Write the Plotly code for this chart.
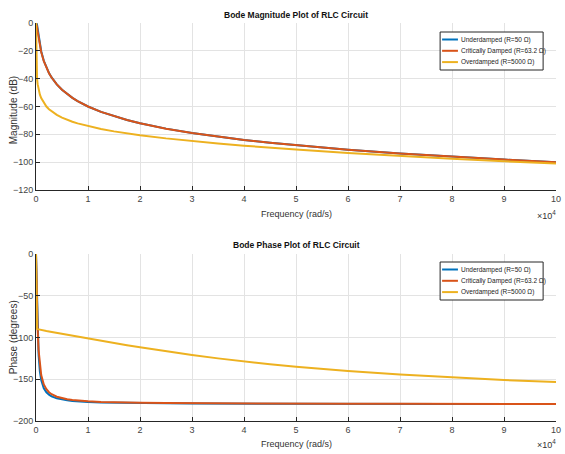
import plotly.graph_objects as go

# Frequency samples (rad/s)
freq = [0, 100, 200, 316, 500, 750, 1000, 1500, 2000, 2500, 3000, 4000, 5000, 6000, 7000, 8000,
        10000, 12500, 15000, 17500, 20000, 25000, 30000, 35000, 40000, 45000, 50000,
        60000, 70000, 80000, 90000, 100000]

# Magnitude (dB)
mag_under = [0, -0.25, -1.34, -3.98, -9.29, -15.50, -20.25, -27.15, -32.10, -35.95, -39.11, -44.10, -47.97,
             -51.13, -53.81, -56.13, -60.00, -63.87, -67.04, -69.71, -72.03, -75.91, -79.08, -81.75,
             -84.07, -86.12, -87.95, -91.12, -93.79, -96.11, -98.16, -99.99]
mag_crit = [0, -0.83, -2.92, -6.02, -10.88, -16.42, -20.83, -27.42, -32.26, -36.06, -39.18, -44.14, -47.99,
            -51.15, -53.82, -56.14, -60.01, -63.88, -67.05, -69.72, -72.04, -75.92, -79.09, -81.76,
            -84.08, -86.13, -87.96, -91.13, -93.80, -96.12, -98.17, -100.00]
mag_over = [0, -33.98, -40.00, -43.98, -47.96, -51.48, -53.98, -57.50, -60.01, -61.95, -63.54, -66.05, -68.00,
            -69.60, -70.97, -72.15, -74.15, -76.18, -77.88, -79.34, -80.64, -82.91, -84.86, -86.59,
            -88.17, -89.62, -90.97, -93.42, -95.59, -97.56, -99.34, -100.97]

# Phase (degrees)
ph_under = [0, -29.05, -59.0, -90.0, -120.96, -140.96, -150.95, -160.77, -165.62, -168.51, -170.43, -172.83,
            -174.27, -175.22, -175.91, -176.42, -177.14, -177.71, -178.09, -178.36, -178.57, -178.85,
            -179.05, -179.18, -179.28, -179.36, -179.43, -179.52, -179.59, -179.64, -179.68, -179.71]
ph_crit = [0, -35.1, -64.6, -90.0, -115.3, -134.28, -144.9, -156.2, -162.0, -165.58, -167.96, -170.96,
           -172.76, -173.96, -174.83, -175.47, -176.38, -177.10, -177.58, -177.93, -178.19, -178.55,
           -178.79, -178.96, -179.09, -179.19, -179.28, -179.40, -179.48, -179.55, -179.60, -179.64]
ph_over = [0, -88.97, -89.66, -90.0, -90.34, -90.71, -91.03, -91.64, -92.23, -92.82, -93.39, -94.54,
           -95.69, -96.82, -97.98, -99.08, -101.30, -104.03, -106.69, -109.28, -111.80, -116.56,
           -120.96, -124.99, -128.66, -131.99, -135.0, -140.19, -144.46, -147.99, -150.95, -153.43]

names = ["Underdamped (R=50 Ω)", "Critically Damped (R=63.2 Ω)", "Overdamped (R=5000 Ω)"]
colors = ["#0072BD", "#D95319", "#EDB120"]

xtick_vals = [0, 10000, 20000, 30000, 40000, 50000, 60000, 70000, 80000, 90000, 100000]
xtick_text = ["0", "1", "2", "3", "4", "5", "6", "7", "8", "9", "10"]
mag_ticks = [-120, -100, -80, -60, -40, -20, 0]
ph_ticks = [-200, -150, -100, -50, 0]

FONT = "Liberation Sans, Arial, sans-serif"

# Pixel geometry of the plot areas
L, R, T, B = 36, 4, 23, 33
W, H = 565, 454
PW, PH = W - L - R, H - T - B


def px_x(px):
    return (px - L) / PW


def px_y(py):
    return (H - B - py) / PH


fig = go.Figure()
for ys, nm, c in zip([mag_under, mag_crit, mag_over], names, colors):
    fig.add_trace(go.Scatter(x=freq, y=ys, mode="lines", name=nm, line=dict(color=c, width=2),
                             xaxis="x", yaxis="y", showlegend=False))
for ys, nm, c in zip([ph_under, ph_crit, ph_over], names, colors):
    fig.add_trace(go.Scatter(x=freq, y=ys, mode="lines", name=nm, line=dict(color=c, width=2),
                             xaxis="x2", yaxis="y2", showlegend=False))

axis_common = dict(showgrid=True, gridcolor="#e3e3e3", gridwidth=1, zeroline=False,
                   showline=True, linecolor="#262626", linewidth=1,
                   ticks="inside", ticklen=4, tickcolor="#262626",
                   ticklabeloverflow="allow",
                   tickfont=dict(family=FONT, size=9, color="#444444"))

fig.update_layout(
    width=W, height=H,
    margin=dict(l=L, r=R, t=T, b=B),
    paper_bgcolor="white", plot_bgcolor="white",
    showlegend=False,
    xaxis=dict(domain=[0, 1], range=[0, 100000], tickvals=xtick_vals, ticktext=xtick_text,
               anchor="y", **axis_common),
    yaxis=dict(domain=[px_y(190), 1], range=[-120, 0], tickvals=mag_ticks,
               anchor="x", **axis_common),
    xaxis2=dict(domain=[0, 1], range=[0, 100000], tickvals=xtick_vals, ticktext=xtick_text,
                anchor="y2", **axis_common),
    yaxis2=dict(domain=[0, px_y(254)], range=[-200, 0], tickvals=ph_ticks,
                anchor="x2", **axis_common),
)

title_font = dict(family=FONT, size=8.5, color="#111111")
label_font = dict(family=FONT, size=9, color="#333333")
ytitle_font = dict(family=FONT, size=10, color="#333333")
legend_font = dict(family=FONT, size=6.5, color="#222222")

fig.add_annotation(text="<b>Bode Magnitude Plot of RLC Circuit</b>", xref="paper", yref="paper",
                   x=0.5, y=px_y(15), showarrow=False, font=title_font, yanchor="middle")
fig.add_annotation(text="<b>Bode Phase Plot of RLC Circuit</b>", xref="paper", yref="paper",
                   x=0.5, y=px_y(245), showarrow=False, font=title_font, yanchor="middle")
fig.add_annotation(text="Frequency (rad/s)", xref="paper", yref="paper",
                   x=0.5, y=px_y(214), showarrow=False, font=label_font, yanchor="middle")
fig.add_annotation(text="Frequency (rad/s)", xref="paper", yref="paper",
                   x=0.5, y=px_y(444), showarrow=False, font=label_font, yanchor="middle")
fig.add_annotation(text="×10<sup>4</sup>", xref="paper", yref="paper",
                   x=px_x(563), xanchor="right", y=px_y(215), showarrow=False, font=label_font,
                   yanchor="middle")
fig.add_annotation(text="×10<sup>4</sup>", xref="paper", yref="paper",
                   x=px_x(563), xanchor="right", y=px_y(444), showarrow=False, font=label_font,
                   yanchor="middle")
fig.add_annotation(text="Magnitude (dB)", xref="paper", yref="paper", textangle=-90,
                   x=px_x(13), y=px_y(110), showarrow=False, font=ytitle_font,
                   xanchor="center", yanchor="middle")
fig.add_annotation(text="Phase (degrees)", xref="paper", yref="paper", textangle=-90,
                   x=px_x(13), y=px_y(337), showarrow=False, font=ytitle_font,
                   xanchor="center", yanchor="middle")

# Legend boxes (drawn as shapes + text so the compact MATLAB-style size can be matched)
for top in (32, 262):
    fig.add_shape(type="rect", xref="paper", yref="paper",
                  x0=px_x(444), x1=px_x(548), y0=px_y(top + 38), y1=px_y(top),
                  line=dict(color="#262626", width=1), fillcolor="white", layer="above")
    for i, (nm, c) in enumerate(zip(names, colors)):
        ry = top + 7.5 + i * 11.3
        fig.add_shape(type="line", xref="paper", yref="paper",
                      x0=px_x(446), x1=px_x(462), y0=px_y(ry), y1=px_y(ry),
                      line=dict(color=c, width=2), layer="above")
        fig.add_annotation(text=nm, xref="paper", yref="paper", x=px_x(463.5), y=px_y(ry),
                           xanchor="left", yanchor="middle", showarrow=False, font=legend_font)

fig.write_html("out.html", config={"displayModeBar": False},
               post_script="document.body.style.margin='0';document.body.style.overflow='hidden';")
